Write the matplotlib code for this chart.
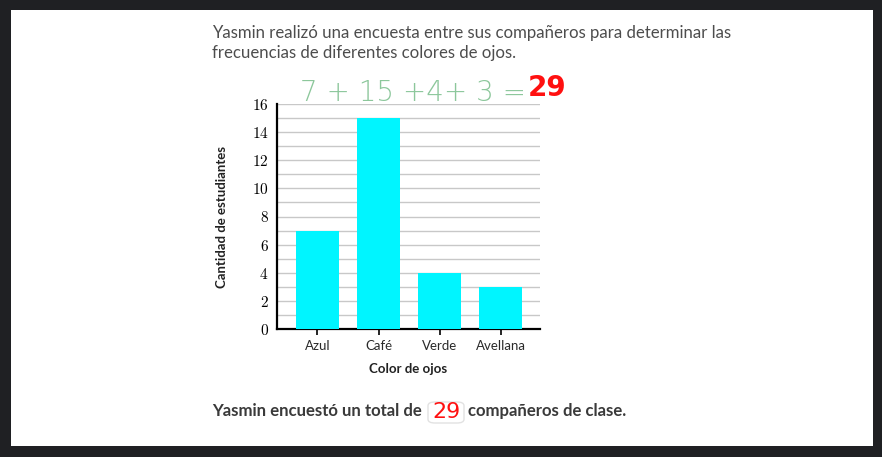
import matplotlib
matplotlib.use("Agg")
import matplotlib.pyplot as plt
from matplotlib.patches import Rectangle, FancyBboxPatch

categories = ["Azul", "Café", "Verde", "Avellana"]
counts = [7, 15, 4, 3]
yticks = [0, 2, 4, 6, 8, 10, 12, 14, 16]
title_lines = ["Yasmin realizó una encuesta entre sus compañeros para determinar las",
               "frecuencias de diferentes colores de ojos."]
handwritten = "7 + 15 +4+ 3 ="
total_text = "29"

plt.rcParams["mathtext.fontset"] = "cm"

W, H = 882, 457
fig = plt.figure(figsize=(W / 100, H / 100), dpi=100)
fig.patch.set_facecolor("#1f2023")

def fx(px):
    return px / W

def fy(py):
    return 1 - py / H

# white page
fig.patches.append(Rectangle((fx(11), fy(446)), fx(873) - fx(11), fy(10) - fy(446),
                             transform=fig.transFigure, facecolor="white", edgecolor="none", zorder=-10))

ax = fig.add_axes([fx(277), fy(329), fx(540) - fx(277), fy(104) - fy(329)])
ax.set_zorder(2)
ax.set_facecolor("white")
x = list(range(len(categories)))
ax.bar(x, counts, width=0.70, color="#00f5ff", zorder=3)
ax.set_xlim(-0.66, 3.64)
ax.set_ylim(0, 16)
for v in range(1, 17):
    ax.axhline(v, color="#c8c8c8", lw=1.0, zorder=1)
ax.set_yticks(yticks)
ax.set_yticklabels([f"${t}$" for t in yticks], fontsize=11)
ax.set_xticks(x)
ax.set_xticklabels(categories, fontsize=9.5, family="Lato", color="#2a2a2a")
ax.tick_params(axis="y", length=0, pad=6)
ax.tick_params(axis="x", length=4, width=1.2, color="black", pad=4)
for s in ["top", "right"]:
    ax.spines[s].set_visible(False)
for s in ["left", "bottom"]:
    ax.spines[s].set_linewidth(1.6)
    ax.spines[s].set_color("black")
ax.set_xlabel("Color de ojos", fontsize=9.5, family="Lato", fontweight="bold", labelpad=8, color="#222222")
ax.set_ylabel("Cantidad de estudiantes", fontsize=9.5, family="Lato", fontweight="bold", labelpad=17, color="#222222")

# title
fig.text(fx(212), fy(33), title_lines[0], fontsize=12.1, family="Lato", color="#4d4d4d", va="center")
fig.text(fx(212), fy(53), title_lines[1], fontsize=12.1, family="Lato", color="#4d4d4d", va="center")

# handwritten annotation
fig.text(fx(300), fy(93), handwritten, fontsize=20, family="DejaVu Sans", fontweight="light",
         color="#8cc79b", va="center")
fig.text(fx(528), fy(88), total_text, fontsize=20, family="DejaVu Sans", fontweight="bold",
         color="#ff1010", va="center")

# bottom sentence
y_b = fy(411)
fig.text(fx(212), y_b, "Yasmin encuestó un total de", fontsize=12.1, family="Lato",
         fontweight="bold", color="#3a3a3a", va="center")
fig.patches.append(FancyBboxPatch((fx(428), fy(423)), fx(464) - fx(428), fy(402) - fy(423),
                                  boxstyle="round,pad=0,rounding_size=0.008",
                                  transform=fig.transFigure, facecolor="white",
                                  edgecolor="#e2e2e2", lw=1, zorder=1))
fig.text(fx(446), fy(412), total_text, fontsize=16, family="DejaVu Sans",
         color="#ff1010", va="center", ha="center")
fig.text(fx(468), y_b, "compañeros de clase.", fontsize=12.1, family="Lato",
         fontweight="bold", color="#3a3a3a", va="center")

fig.savefig("out.png", dpi=100, facecolor=fig.get_facecolor())
